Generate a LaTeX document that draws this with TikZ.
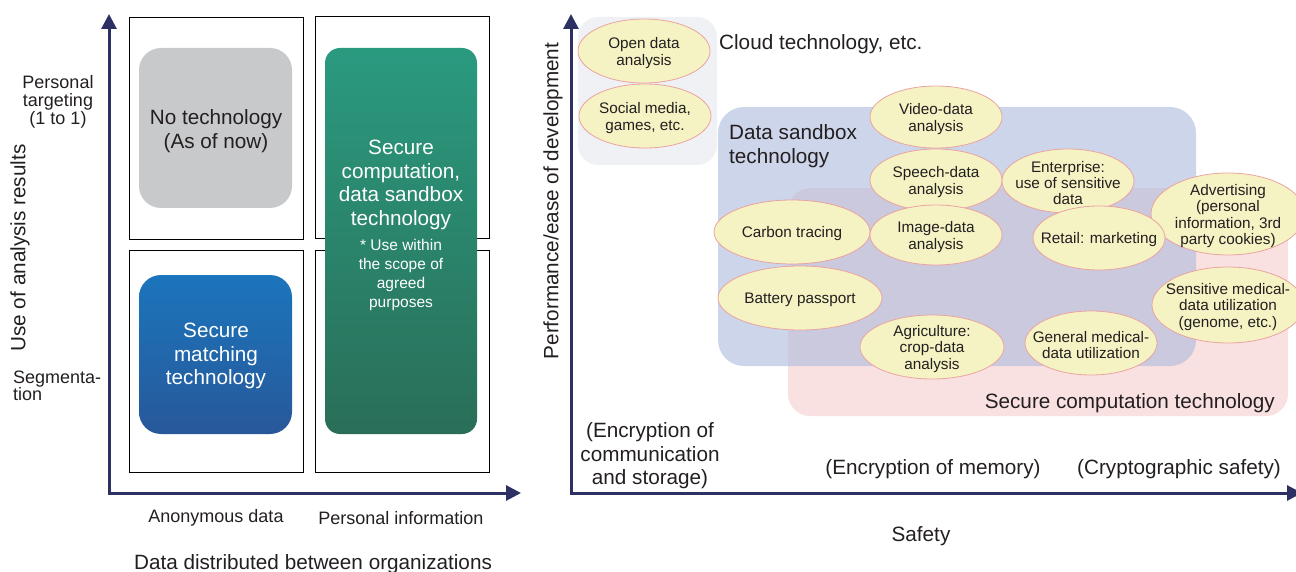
\documentclass[tikz,border=0pt]{standalone}
\usepackage{fontspec}
\setmainfont{Liberation Sans}
\usetikzlibrary{arrows.meta}
\definecolor{axisnavy}{RGB}{45,48,98}
\definecolor{inkgray}{RGB}{35,31,32}
\definecolor{notechgray}{RGB}{200,201,203}
\definecolor{matchtop}{RGB}{27,117,188}
\definecolor{matchbot}{RGB}{40,88,154}
\definecolor{comptop}{RGB}{42,154,127}
\definecolor{compbot}{RGB}{42,110,88}
\definecolor{cloudfill}{RGB}{239,241,245}
\definecolor{sandboxfill}{RGB}{205,213,235}
\definecolor{securefill}{RGB}{249,225,225}
\definecolor{bothfill}{RGB}{203,201,222}
\definecolor{bubblefill}{RGB}{245,243,196}
\definecolor{bubbleline}{RGB}{234,163,160}
\begin{document}
\begin{tikzpicture}[x=1pt,y=-1pt,
  bigtext/.style={inner sep=0pt, align=center, text=inkgray, font=\fontsize{20.7}{23.5}\selectfont},
  midtext/.style={inner sep=0pt, align=center, text=inkgray, font=\fontsize{18}{18}\selectfont},
  smalltext/.style={inner sep=0pt, align=center, text=inkgray, yshift=-2pt, font=\fontsize{15.3}{16.3}\selectfont},
  quadbox/.style={draw=black, line width=0.9pt},
  axisline/.style={draw=axisnavy, line width=3pt,
    {Triangle[length=15pt,width=15pt]}-{Triangle[length=15pt,width=15pt]}},
  bubble/.style={fill=bubblefill, draw=bubbleline, line width=0.8pt}]
\useasboundingbox (0,0) rectangle (1296,572);

% left chart: who the data belongs to vs. how results are used
\draw[quadbox] (129,17) rectangle (303,239);
\draw[quadbox] (315,16) rectangle (489,238);
\draw[quadbox] (129,250) rectangle (303,472);
\draw[quadbox] (315,250) rectangle (489,472);
\fill[notechgray, rounded corners=22pt] (139,48) rectangle (292,208);
\shade[top color=matchtop, bottom color=matchbot, rounded corners=22pt] (139,275) rectangle (292,434);
\shade[top color=comptop, bottom color=compbot, rounded corners=15pt] (325,48) rectangle (477,434);
\node[bigtext] (notech) at (216,131) {No technology\\(As of now)};
\node[bigtext, text=white] (matching) at (216,356) {Secure\\matching\\technology};
\node[bigtext, text=white] (computation) at (401,185) {Secure\\computation,\\data sandbox\\technology};
\node[bigtext, text=white, font=\fontsize{15.5}{18.7}\selectfont] (scope) at (401,275) {* Use within\\the scope of\\agreed\\purposes};

\coordinate (lorigin) at (109,493);
\coordinate (ltop) at (109,14);
\coordinate (lright) at (521,493);
\draw[axisline] (ltop) -- (lorigin) -- (lright);
\node[midtext] (targeting) at (58,102) {Personal\\targeting\\(1 to 1)};
\node[midtext, anchor=west, align=left, font=\fontsize{18}{17}\selectfont] (segment) at (13,386) {Segmenta-\\tion};
\node[bigtext, rotate=90] (useresults) at (20,248) {Use of analysis results};
\node[midtext] (anon) at (216,518) {Anonymous data};
\node[midtext] (personal) at (401,518) {Personal information};
\node[bigtext] (distributed) at (313,564) {Data distributed between organizations};

% right chart: technology areas vs. safety
\fill[cloudfill, rounded corners=20pt] (578,17) rectangle (717,165);
\fill[sandboxfill, rounded corners=26pt] (718,107) rectangle (1196,366);
\fill[securefill, rounded corners=22pt] (788,188) rectangle (1288,416);
\begin{scope}
\clip[rounded corners=26pt] (718,107) rectangle (1196,366);
\fill[bothfill, rounded corners=22pt] (788,188) rectangle (1288,416);
\end{scope}

\coordinate (rorigin) at (571,493);
\coordinate (rtop) at (571,14);
\coordinate (rright) at (1302,493);
\draw[axisline] (rtop) -- (rorigin) -- (rright);

\node[bigtext, anchor=west] (cloud) at (719,44) {Cloud technology, etc.};
\node[bigtext, anchor=west, align=left] (sandbox) at (729,146) {Data sandbox\\technology};
\node[bigtext, anchor=east] (securecomp) at (1275,403) {Secure computation technology};

\path[bubble] (644,51) ellipse [x radius=66, y radius=32] node[smalltext] (opendata) {Open data\\analysis};
\path[bubble] (645,116) ellipse [x radius=66, y radius=32] node[smalltext] (social) {Social media,\\games, etc.};
\path[bubble] (936,117) ellipse [x radius=66, y radius=31] node[smalltext] (video) {Video-data\\analysis};
\path[bubble] (936,180) ellipse [x radius=66, y radius=31] node[smalltext] (speech) {Speech-data\\analysis};
\path[bubble] (936,235) ellipse [x radius=66, y radius=30] node[smalltext] (image) {Image-data\\analysis};
\path[bubble] (792,232) ellipse [x radius=78, y radius=32] node[smalltext] (carbon) {Carbon tracing};
\path[bubble] (800,298) ellipse [x radius=82, y radius=32] node[smalltext] (battery) {Battery passport};
\path[bubble] (1068,181) ellipse [x radius=66, y radius=32] node[smalltext] (enterprise) {Enterprise:\\use of sensitive\\data};
\path[bubble] (1228,214) ellipse [x radius=77, y radius=41] node[smalltext] (advert) {Advertising\\(personal\\information, 3rd\\party cookies)};
\path[bubble] (1099,238) ellipse [x radius=66, y radius=32] node[smalltext] (retail) {Retail: marketing};
\path[bubble] (1228,305) ellipse [x radius=76, y radius=38] node[smalltext] (genome) {Sensitive medical-\\data utilization\\(genome, etc.)};
\path[bubble] (932,347) ellipse [x radius=72, y radius=32] node[smalltext] (agri) {Agriculture:\\crop-data\\analysis};
\path[bubble] (1091,343) ellipse [x radius=66, y radius=32] node[smalltext] (medical) {General medical-\\data utilization};

\node[bigtext] (enccomm) at (650,456) {(Encryption of\\communication\\and storage)};
\node[bigtext] (encmem) at (933,469) {(Encryption of memory)};
\node[bigtext, anchor=east] (cryptosafe) at (1281,469) {(Cryptographic safety)};
\node[bigtext] (safety) at (921,536) {Safety};
\node[bigtext, rotate=90] (perf) at (553,201) {Performance/ease of development};
\end{tikzpicture}
\end{document}
